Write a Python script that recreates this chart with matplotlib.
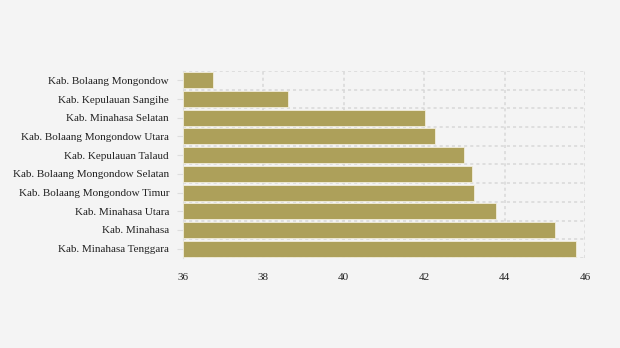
import matplotlib.pyplot as plt
import numpy as np

kabupaten = [
    "Kab. Bolaang Mongondow",
    "Kab. Kepulauan Sangihe",
    "Kab. Minahasa Selatan",
    "Kab. Bolaang Mongondow Utara",
    "Kab. Kepulauan Talaud",
    "Kab. Bolaang Mongondow Selatan",
    "Kab. Bolaang Mongondow Timur",
    "Kab. Minahasa Utara",
    "Kab. Minahasa",
    "Kab. Minahasa Tenggara",
]
nilai = [36.75, 38.61, 42.02, 42.27, 42.99, 43.19, 43.24, 43.79, 45.25, 45.78]
x_ticks = [36, 38, 40, 42, 44, 46]

plt.rcParams['font.family'] = ['Liberation Serif', 'DejaVu Serif']

fig = plt.figure(figsize=(6.2, 3.48), dpi=100, facecolor='#f4f4f4')
ax = fig.add_axes([0.295, 0.2586, 0.6485, 0.5374])
ax.set_facecolor('#f4f4f4')

y = np.arange(len(kabupaten))
ax.barh(y, [v - x_ticks[0] for v in nilai], left=x_ticks[0], height=0.86,
        color='#ada05a', edgecolor='#f2eedc', linewidth=0.6, zorder=3)

ax.set_xlim(x_ticks[0], x_ticks[-1])
ax.set_ylim(len(kabupaten) - 0.5, -0.5)
ax.set_xticks(x_ticks)
ax.set_xticklabels([str(t) for t in x_ticks], fontsize=8, color='#222222')
ax.set_yticks(y)
ax.set_yticklabels(kabupaten, fontsize=8, color='#222222', va='center_baseline')
ax.set_yticks(np.arange(-0.5, len(kabupaten), 1), minor=True)

ax.tick_params(axis='x', length=0, pad=10.5)
ax.tick_params(axis='y', which='major', length=4, color='#dddddd', pad=6)
ax.tick_params(axis='y', which='minor', length=0)

ax.grid(axis='x', which='major', linestyle=(0, (2, 2)), color='#d8d8d8', linewidth=1.1, zorder=1)
ax.grid(axis='y', which='minor', linestyle=(0, (2, 2)), color='#d8d8d8', linewidth=1.1, zorder=1)
ax.grid(axis='y', which='major', visible=False)

for side in ['top', 'right', 'bottom']:
    ax.spines[side].set_visible(False)
ax.spines['left'].set_color('#e0e0e0')
ax.spines['left'].set_linestyle((0, (2, 2)))

fig.savefig('out.png', dpi=100, facecolor=fig.get_facecolor())
